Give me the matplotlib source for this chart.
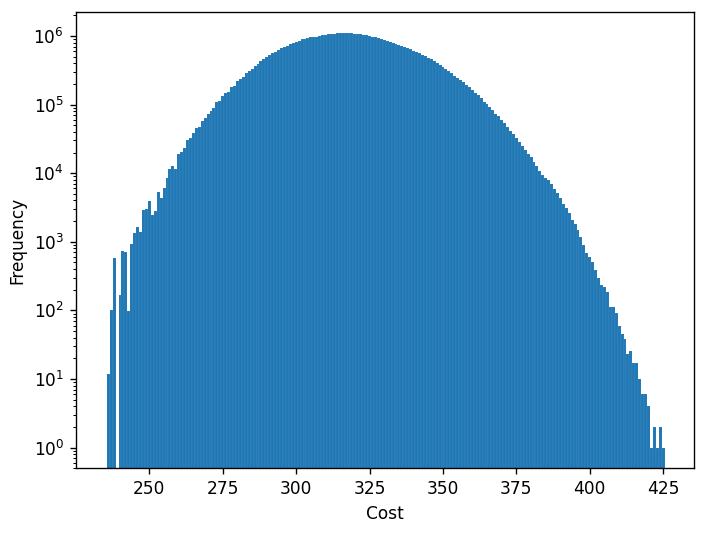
import matplotlib
matplotlib.use("Agg")
import matplotlib.pyplot as plt
import numpy as np

# cost values (integer bins) and how often each one occurred
costs = np.arange(236, 426)
counts = [
    12, 100, 575, 0, 168, 740, 720, 98, 930, 1350,
    1660, 1410, 2900, 3000, 3880, 2460, 2770, 5370, 4330, 6050,
    8500, 11700, 12600, 11700, 19000, 20400, 22900, 30900, 32400, 38000,
    45700, 46800, 57500, 63100, 74100, 81300, 89100, 110000, 112000, 132000,
    148000, 155000, 182000, 184000, 219000, 234000, 251000, 288000, 309000, 331000,
    363000, 389000, 427000, 468000, 501000, 525000, 562000, 589000, 617000, 661000,
    692000, 724000, 759000, 785000, 813000, 851000, 891000, 912000, 933000, 955000,
    966000, 977000, 1000000, 1023000, 1047000, 1059000, 1072000, 1084000, 1096000, 1100000,
    1102000, 1100000, 1096000, 1088000, 1080000, 1070000, 1052000, 1040000, 1025000, 1005000,
    980000, 955000, 932000, 910000, 875000, 850000, 815000, 790000, 765000, 740000,
    715000, 690000, 660000, 640000, 610000, 582000, 556000, 531000, 507000, 479000,
    457000, 431000, 407000, 380000, 355000, 331000, 309000, 288000, 263000, 245000,
    229000, 214000, 195000, 178000, 162000, 148000, 138000, 126000, 110000, 102000,
    93300, 83200, 72400, 67600, 60300, 53700, 47900, 41700, 37200, 32400,
    28200, 25100, 21900, 19100, 17000, 14800, 12900, 10700, 9550, 8510,
    7940, 6920, 5890, 5130, 4370, 3550, 3160, 2630, 2090, 1820,
    1480, 1170, 890, 690, 600, 500, 390, 295, 235, 222,
    183, 112, 112, 91, 59, 45, 38, 23, 26, 17,
    17, 10, 6, 6, 4, 1, 2, 1, 2, 1,
]

dpi = 122
fig = plt.figure(figsize=(706 / dpi, 535 / dpi), dpi=dpi)
ax = fig.add_axes([0.1076, 0.1247, 0.8754, 0.853])

ax.bar(costs, counts, width=1.0, color="#1f77b4",
       edgecolor=(1, 1, 1, 0.35), linewidth=0.1)
ax.set_yscale("log")
ax.set_xlim(225.0, 435.5)
ax.set_ylim(0.5, 2.24e6)
ax.set_xticks([250, 275, 300, 325, 350, 375, 400, 425])
ax.set_xlabel("Cost")
ax.set_ylabel("Frequency")

fig.savefig("out.png", dpi=dpi)
